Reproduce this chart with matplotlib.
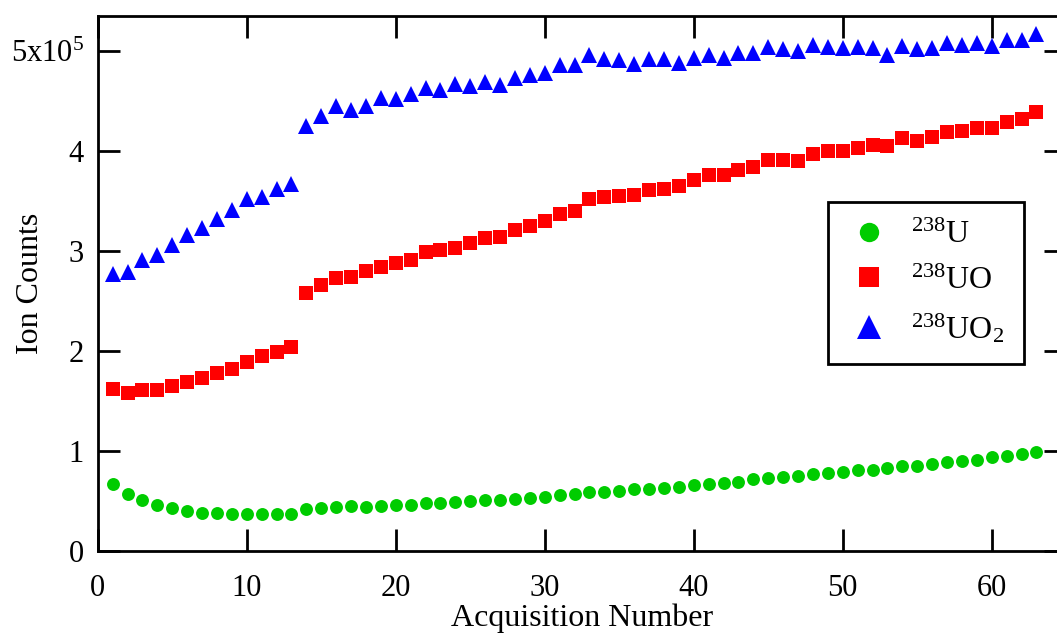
import matplotlib
matplotlib.use("Agg")
import matplotlib.pyplot as plt
from matplotlib.ticker import FixedLocator, FixedFormatter

plt.rcParams["font.family"] = ["Liberation Serif", "DejaVu Serif"]
plt.rcParams["mathtext.default"] = "regular"

acq = list(range(1, 64))

u238 = [0.667, 0.564, 0.510, 0.457, 0.424, 0.397, 0.374, 0.374, 0.367, 0.370,
        0.364, 0.370, 0.364, 0.414, 0.430, 0.440, 0.443, 0.440, 0.450, 0.453,
        0.457, 0.474, 0.477, 0.487, 0.494, 0.507, 0.504, 0.520, 0.530, 0.540,
        0.557, 0.564, 0.583, 0.587, 0.593, 0.613, 0.620, 0.630, 0.640, 0.660,
        0.667, 0.680, 0.690, 0.713, 0.723, 0.740, 0.744, 0.770, 0.777, 0.787,
        0.803, 0.810, 0.827, 0.843, 0.847, 0.870, 0.890, 0.900, 0.907, 0.933,
        0.943, 0.967, 0.990]

uo238 = [1.614, 1.580, 1.607, 1.610, 1.650, 1.690, 1.730, 1.774, 1.820, 1.890,
         1.944, 1.984, 2.037, 2.580, 2.657, 2.724, 2.740, 2.797, 2.840, 2.877,
         2.910, 2.984, 3.007, 3.030, 3.077, 3.130, 3.133, 3.204, 3.244, 3.297,
         3.370, 3.400, 3.517, 3.540, 3.547, 3.557, 3.607, 3.617, 3.647, 3.707,
         3.754, 3.757, 3.804, 3.834, 3.907, 3.904, 3.900, 3.964, 4.000, 4.000,
         4.027, 4.054, 4.050, 4.124, 4.100, 4.140, 4.187, 4.200, 4.224, 4.230,
         4.290, 4.320, 4.390]

uo2_238 = [2.770, 2.783, 2.907, 2.953, 3.060, 3.157, 3.230, 3.314, 3.410, 3.520,
           3.537, 3.620, 3.670, 4.250, 4.347, 4.450, 4.410, 4.444, 4.527, 4.520,
           4.564, 4.624, 4.604, 4.664, 4.650, 4.687, 4.660, 4.730, 4.760, 4.777,
           4.857, 4.854, 4.960, 4.920, 4.904, 4.870, 4.914, 4.914, 4.880, 4.930,
           4.960, 4.927, 4.977, 4.980, 5.034, 5.014, 4.997, 5.057, 5.037, 5.030,
           5.037, 5.024, 4.957, 5.044, 5.020, 5.024, 5.077, 5.057, 5.080, 5.047,
           5.110, 5.110, 5.164]

scale = 1e5
u238 = [v * scale for v in u238]
uo238 = [v * scale for v in uo238]
uo2_238 = [v * scale for v in uo2_238]

x_ticks = [0, 10, 20, 30, 40, 50, 60]
y_ticks = [0, 1e5, 2e5, 3e5, 4e5, 5e5]
y_labels = ["0", "1", "2", "3", "4", r"5x10$^{5}$"]

W, H = 1057, 643
fig = plt.figure(figsize=(W / 100, H / 100), dpi=100)
x0, y0, y1 = 97.7, 550.7, 15.7
px_per_unit = 14.9
ax_w = 65 * px_per_unit
ax = fig.add_axes([x0 / W, (H - y0) / H, ax_w / W, (y0 - y1) / H])

ax.plot(acq, u238, "o", color="#00cc00", markersize=9.3, markeredgewidth=0,
        label=r"$^{238}$U")
ax.plot(acq, uo238, "s", color="#ff0000", markersize=9.6, markeredgewidth=0,
        label=r"$^{238}$UO")
ax.plot(acq, uo2_238, "^", color="#0000ff", markersize=11.5, markeredgewidth=0,
        label=r"$^{238}$UO$_2$")

ax.set_xlim(0, 65)
ax.set_ylim(0, 5.35e5)
ax.xaxis.set_major_locator(FixedLocator(x_ticks))
ax.yaxis.set_major_locator(FixedLocator(y_ticks))
ax.yaxis.set_major_formatter(FixedFormatter(y_labels))

for s in ax.spines.values():
    s.set_linewidth(2)
ax.tick_params(direction="in", length=16, width=2, top=True, right=True,
               labelsize=22)
ax.tick_params(axis="x", pad=17)
ax.tick_params(axis="y", pad=10)

ax.set_xlabel("Acquisition Number", fontsize=23, labelpad=0)
ax.set_ylabel("Ion Counts", fontsize=23)
ax.yaxis.set_label_coords((45 - x0) / ax_w, 0.5)

leg = ax.legend(loc="upper left",
                bbox_to_anchor=((827.7 - x0) / ax_w, (y0 - 201.7) / (y0 - y1)),
                borderaxespad=0, fontsize=23, frameon=True, fancybox=False,
                edgecolor="black", framealpha=1, markerscale=1.5,
                borderpad=0.6, handlelength=1.36, handletextpad=0.66,
                labelspacing=0.5)
leg.get_frame().set_linewidth(2)

fig.savefig("out.png", dpi=100)
